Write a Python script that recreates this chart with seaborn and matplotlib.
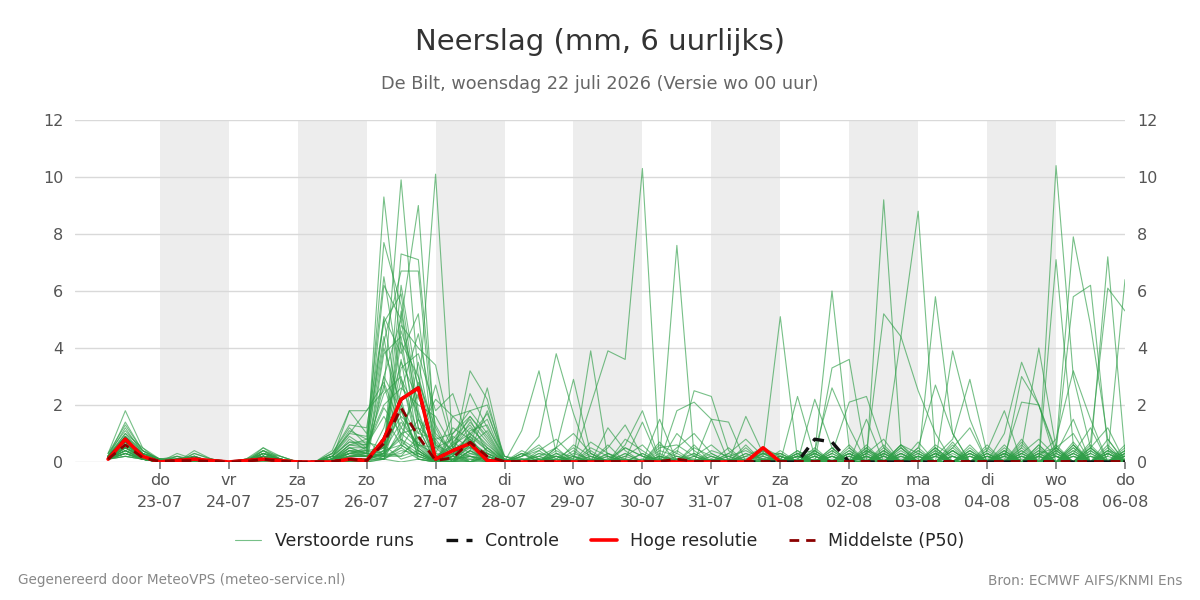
import numpy as np
import pandas as pd
import matplotlib
matplotlib.use("Agg")
import matplotlib.pyplot as plt
from matplotlib.lines import Line2D
import seaborn as sns

# tijdas: 6-uurlijkse stappen vanaf 22-07 06 uur (in dagen na 22-07 00 uur)
n_steps = 60
day_names = ['do', 'vr', 'za', 'zo', 'ma', 'di', 'wo', 'do', 'vr', 'za', 'zo', 'ma', 'di', 'wo', 'do']
day_dates = ['23-07', '24-07', '25-07', '26-07', '27-07', '28-07', '29-07', '30-07',
             '31-07', '01-08', '02-08', '03-08', '04-08', '05-08', '06-08']

# verstoorde runs, deel 1: 22-07 06u t/m 25-07 18u (15 stappen)
runs_early = [
    [0.2,1.0,0.3, 0.1,0.1,0.2,0, 0,0.1,0.3,0.1, 0,0,0.1,0.5],
    [0.3,1.8,0.5, 0.1,0,0.1,0, 0,0,0.2,0.1, 0,0,0.3,1.0],
    [0.2,1.4,0.4, 0,0.3,0.1,0, 0,0,0.5,0.2, 0,0,0,0.3],
    [0.1,0.8,0.2, 0,0,0.4,0.1, 0,0.1,0.2,0, 0,0,0.2,0],
    [0.2,1.2,0.3, 0.1,0.1,0,0, 0,0,0.4,0.1, 0,0,0.1,0.8],
    [0.1,0.6,0.2, 0,0.2,0.1,0, 0,0,0.1,0, 0,0,0,0.2],
    [0.3,1.1,0.4, 0.1,0,0.3,0.1, 0,0,0.3,0.2, 0,0,0.3,1.2],
    [0.2,0.9,0.3, 0,0.1,0,0, 0,0.1,0.5,0.1, 0,0,0.1,1.8],
    [0.1,0.7,0.2, 0.1,0,0.2,0, 0,0,0.2,0.1, 0,0,0,0.4],
    [0.2,1.0,0.5, 0,0,0.1,0, 0,0,0.3,0, 0,0,0.2,0.1],
    [0.2,0.8,0.3, 0.1,0.2,0,0.1, 0,0,0.4,0.2, 0,0,0.1,0.6],
    [0.1,0.5,0.1, 0,0,0.1,0, 0,0,0.1,0, 0,0,0,0.3],
    [0.3,1.3,0.4, 0.1,0.1,0.2,0, 0,0.1,0.2,0.1, 0,0,0.4,1.8],
    [0.2,0.9,0.2, 0,0,0,0, 0,0,0.3,0.1, 0,0,0,0.1],
    [0.1,0.6,0.2, 0,0.1,0.1,0, 0,0,0.2,0, 0,0,0.2,0.9],
    [0.2,0.7,0.3, 0.1,0,0.3,0.1, 0,0,0.1,0.1, 0,0,0.1,0.2],
    [0.1,0.9,0.2, 0,0.2,0,0, 0,0.1,0.4,0, 0,0,0,0.4],
    [0.2,0.5,0.2, 0,0,0.1,0, 0,0,0.2,0.1, 0,0,0.2,0.7],
    [0.1,0.4,0.1, 0,0.1,0,0, 0,0,0.1,0, 0,0,0,0.1],
    [0.2,0.6,0.3, 0.1,0,0.2,0, 0,0,0.3,0.1, 0,0,0.1,0.3],
    [0.1,0.3,0.1, 0,0,0,0, 0,0,0.2,0, 0,0,0,0],
    [0.2,0.8,0.2, 0,0.1,0.1,0, 0,0,0.3,0.1, 0,0,0.3,1.3],
    [0.1,0.5,0.2, 0,0,0,0, 0,0,0.1,0, 0,0,0.1,0.2],
    [0.2,0.7,0.1, 0.1,0,0.1,0.1, 0,0,0.2,0.1, 0,0,0,0.5],
    [0.1,0.4,0.2, 0,0.1,0,0, 0,0,0.1,0, 0,0,0,0.1],
    [0.2,0.6,0.2, 0,0,0.2,0, 0,0,0.4,0.1, 0,0,0.2,1.0],
    [0.1,0.3,0.1, 0,0,0,0, 0,0,0.1,0, 0,0,0,0.2],
    [0.2,0.6,0.3, 0.1,0.1,0.1,0, 0,0,0.2,0, 0,0,0.1,0.6],
    [0.1,0.2,0.1, 0,0,0,0, 0,0,0,0, 0,0,0,0],
    [0.1,0.5,0.2, 0,0,0.1,0, 0,0,0.2,0.1, 0,0,0.1,0.3],
    [0.1,0.4,0.1, 0,0.1,0,0, 0,0,0.1,0, 0,0,0,0.1],
    [0.2,0.6,0.2, 0,0,0.1,0, 0,0,0.2,0, 0,0,0.1,0.4],
    [0.2,0.9,0.4, 0.1,0,0.2,0, 0,0,0.3,0.1, 0,0,0.2,1.1],
    [0.1,0.3,0.1, 0,0,0,0, 0,0,0.1,0, 0,0,0,0.2],
    [0.2,0.7,0.2, 0,0.1,0.1,0, 0,0,0.2,0.1, 0,0,0.1,0.6],
    [0.1,0.4,0.1, 0,0,0,0, 0,0,0.1,0, 0,0,0,0.1],
    [0.1,0.5,0.2, 0,0,0.1,0, 0,0,0.2,0, 0,0,0.1,0.3],
    [0.1,0.2,0.1, 0,0,0,0, 0,0,0,0, 0,0,0,0],
    [0.2,0.8,0.3, 0,0.1,0,0, 0,0,0.3,0.1, 0,0,0.2,0.7],
    [0.1,0.5,0.1, 0,0,0.1,0, 0,0,0.1,0, 0,0,0,0.2],
    [0.1,0.3,0.1, 0,0,0,0, 0,0,0.1,0, 0,0,0,0.1],
    [0.2,0.6,0.2, 0,0,0.1,0, 0,0,0.2,0, 0,0,0.1,0.4],
    [0.1,0.4,0.1, 0,0,0,0, 0,0,0.1,0, 0,0,0,0],
    [0.1,0.6,0.2, 0,0,0.1,0, 0,0,0.2,0, 0,0,0.1,0.3],
    [0.1,0.3,0.1, 0,0,0,0, 0,0,0,0, 0,0,0,0.1],
    [0.2,0.7,0.2, 0,0.1,0,0, 0,0,0.2,0.1, 0,0,0.1,0.5],
    [0.1,0.4,0.1, 0,0,0,0, 0,0,0.1,0, 0,0,0,0],
    [0.1,0.5,0.2, 0,0,0.1,0, 0,0,0.1,0, 0,0,0,0.2],
    [0.1,0.2,0.1, 0,0,0,0, 0,0,0,0, 0,0,0,0],
    [0.1,0.3,0.1, 0,0,0,0, 0,0,0.1,0, 0,0,0,0.1],
]

# deel 2: 26-07 00u t/m 27-07 18u (8 stappen)
runs_event = [
    [0.3,9.3,4.0,1.2, 0,0.2,1.0,0.5],
    [1.8,2.5,9.9,3.0, 0.5,0.8,1.5,0.3],
    [0.5,3.0,5.0,9.0, 0.6,0.3,0.6,1.1],
    [0,1.2,3.5,2.2, 10.1,0.5,0.2,0.1],
    [0.4,7.7,5.5,1.5, 0.8,1.0,1.8,2.0],
    [0.2,0.4,7.3,7.1, 1.0,0.4,0.7,0.3],
    [0.6,4.2,6.7,6.7, 0.3,0.2,3.2,2.2],
    [1.0,6.5,2.8,1.0, 2.2,1.6,1.0,0.4],
    [0.3,5.1,3.8,5.2, 0,0.9,0.5,2.6],
    [0.1,0.3,6.2,2.5, 0.2,0.6,1.6,0.8],
    [0.8,4.9,5.9,1.8, 0,0.3,0.9,1.7],
    [0.2,0.5,4.8,4.0, 3.4,0.7,0.3,0.2],
    [1.8,2.8,1.2,0.6, 0.3,1.6,1.8,1.0],
    [0,3.8,4.4,0.5, 2.7,0.5,1.2,0.6],
    [0.5,6.2,5.0,1.2, 0,0,0.4,1.8],
    [0.3,0.2,3.3,3.8, 1.8,2.4,0.6,0.2],
    [0.2,4.0,2.0,0.8, 0,0.2,2.4,1.2],
    [0.7,0.5,4.2,3.0, 0.9,0.4,0.5,0.3],
    [0.1,0.3,5.3,1.5, 0,1.0,1.6,0.9],
    [0.4,0.1,2.5,4.5, 1.3,0.2,0.8,0],
    [0,3.0,1.8,0.5, 0,0.6,1.0,1.5],
    [1.2,5.0,1.5,0.6, 0.5,0,0.3,0.1],
    [0.3,0.2,4.6,2.7, 0.2,0.5,1.4,0.7],
    [0.5,2.4,3.0,0.4, 0,1.2,0.8,0.2],
    [0.1,0.4,0.6,3.5, 0.6,0,0,0.5],
    [0.9,4.4,0.8,0.4, 0,0.4,0.7,0],
    [0.2,0.5,3.6,0.3, 0,0,1.1,1.3],
    [0.6,2.0,2.6,2.0, 1.6,0.5,0,0.2],
    [0,0.1,1.2,2.4, 0,0.1,0.6,0],
    [0.4,0.3,2.2,0.1, 0,0.4,0.9,0.4],
    [0.1,0.6,1.6,1.0, 0.8,0,0.4,0.1],
    [0.3,2.7,0.7,0.3, 0,0.3,0.2,0],
    [0.8,0.2,2.9,1.7, 0,0,0.6,0.3],
    [0.2,0.3,0.9,2.8, 1.2,0,0,0.2],
    [0.5,1.9,1.0,0.5, 0,0.7,1.3,0.5],
    [0.1,0.1,2.0,0.2, 0,0,0.2,0.1],
    [0.3,0.2,0.5,1.5, 0.2,0.1,0.5,0],
    [0,0.4,1.4,0.6, 0,0,0.8,0],
    [0.6,1.6,0.6,0.2, 0,0.2,0,0.1],
    [0.2,0.2,1.0,1.2, 0.7,0,0.4,0],
    [0.1,0.1,0.4,0.3, 0,0.3,0,0.2],
    [0.4,0.5,1.8,0.4, 0,0.1,0.2,0],
    [0,0.2,0.3,0.7, 0,0.2,0.1,0.1],
    [0.2,0.1,0.6,0.2, 0,0,0.9,0],
    [0.1,0.3,0.8,0.1, 0,0.1,0,0.2],
    [0.3,0.2,0.2,0.9, 0,0,0.4,0.1],
    [0,0.6,0.1,0.3, 0,0.2,0,0],
    [0.2,0.1,0.5,0.1, 0,0.1,0.2,0.1],
    [0.1,0.3,0.2,0.4, 0,0,0.1,0],
    [0,0.1,0,0.1, 0,0,0,0],
]

# deel 3: 28-07 00u t/m 31-07 18u (16 stappen)
runs_mid = [
    [0,0,0.1,0.2, 0.1,2.0,3.9,3.6, 10.3,0,0.1,0, 0,0.1,0,0.2],
    [0.1,0,0,0.3, 0.2,0,0.1,0.5, 0.2,0.1,7.6,0.2, 0,0,0.3,0.1],
    [0,0.2,0.5,0.1, 0,0,0.3,0.1, 0,0.4,0.2,0, 0.1,0,0.1,0.2],
    [0,0.1,0,0, 0.6,0.2,0,0, 0.3,0,0,0.5, 0.2,0,0,0.3],
    [0.2,0,0.4,0.8, 0.2,0,0,0.1, 0,0.6,0.3,0, 0,0.2,0.4,0.1],
    [0,0.3,0.1,0, 0,0.5,0.2,0, 0.1,0,0,0.2, 0.6,0.1,0,0],
    [0,0,0.2,0.5, 1.0,0.3,0,0, 0,0.2,0.1,0, 0,0,0.2,0.5],
    [0.1,0,0,0.1, 0,0,1.2,0.4, 0,0,0.5,1.0, 0.3,0,0,0.1],
    [0,0.2,0.6,0, 0.3,0.1,0,0.2, 0,0.1,0,0, 0,0.3,0.8,0.2],
    [0,0,0,0.4, 0.1,0,0,0.8, 0.4,0,0.2,0.1, 0,0,0,0],
    [0.2,0.1,0,0, 0,0.7,0.3,0, 0,0.3,0,0, 0.4,0.2,0,0.3],
    [0,0,0.3,0.2, 0,0,0,0.2, 0.6,0,0.1,0.3, 0,0,0.5,0],
    [0,0.4,0.1,0, 0.2,0,0.5,1.3, 0.2,0,0,0, 0.1,0,0,0],
    [0.1,0,0,0.2, 0,0.3,0,0, 0,0.5,0.6,0.2, 0,0.1,0,0.4],
    [0,0.1,0.2,0, 0.4,0,0.1,0, 0.3,0,0,0, 0.2,0,0.3,0],
    [0,0,0,0.5, 0,0.2,0,0.3, 0,0,0.4,0, 0,0.5,0,0],
    [0.2,0,0.3,0, 0,0,0.6,0, 0,0.2,0,0.6, 0,0,0.1,0.3],
    [0,0.3,0,0.1, 0.5,0,0,0.1, 1.4,0,0,0, 0.3,0,0,0],
    [0,0,0.1,0, 0,0.4,0,0, 0,0,1.0,0.4, 0,0,0.6,0],
    [0.1,0,0,0.3, 0,0,0.2,0, 0,0.7,0,0, 0,0.3,0,0.1],
    [0,0.2,0.4,0, 0,0,0,0.5, 0.2,0,0,0.3, 0,0,0,0.4],
    [0,1.1,3.2,0.3, 0,0.1,0,0, 0,0,0.2,0, 0,0,0,0],
    [0,0.2,0.9,3.8, 1.7,0,0,0.1, 0,0,0,0, 0.2,0,0,0],
    [0,0,0,0.5, 2.9,0.3,0,0, 0,0.1,0,0, 0,0,0,0.1],
    [0.1,0,0,0, 0.1,3.9,0.1,0, 0,0,0,0.2, 0,0,0,0],
    [0,0,0.1,0, 0,0,0,0, 0.1,0,0.3,2.5, 2.3,0.4,0,0],
    [0,0.1,0,0, 0,0,0,0.6, 1.8,0.1,0,0, 0,0,0,0],
    [0,0,0,0.2, 0,0,0,0, 0,0,1.8,2.1, 1.5,0,0,0],
    [0,0,0.2,0, 0,0,0,0, 0,0,0,0, 0,0,0,0],
    [0,0,0,0, 0,0.1,0,0, 0,0,0,0, 0,0,0,0],
    [0,0,0,0, 0,0,0,0, 0,0,0,0, 0,0,0,0],
    [0,0,0,0, 0,0,0,0, 0,0,0,0, 0,0,1.6,0.3],
    [0,0,0,0, 0,0,0.2,0, 0,0,0,0, 0,0,0,0],
    [0,0,0,0.1, 0,0,0,0, 0,0,0,0, 0,0,0,0],
    [0,0,0,0, 0,0,0,0, 0,0,0,0, 0,0,0,0],
    [0,0,0,0, 0,0,0,0, 0,0,0,0, 0,0,0,0],
    [0,0,0,0, 0,0,0,0, 0,0,0,0, 1.5,1.4,0,0],
    [0,0,0,0, 0,0,0,0, 0,1.5,0,0, 0,0,0,0],
    [0,0,0.1,0, 0,0,0.3,0, 0,0,0,0, 0,0.2,0,0],
    [0,0.3,0,0, 0,0,0,0, 0,0,0.1,0, 0,0,0,0],
    [0,0,0,0, 0.2,0,0,0, 0,0,0,0, 0,0,0,0.3],
    [0,0,0,0, 0,0,0,0.3, 0,0,0,0, 0,0,0,0],
    [0,0,0,0.2, 0,0,0,0, 0,0,0,0.1, 0,0,0,0],
    [0,0,0,0, 0,0,0,0, 0,0.2,0,0, 0,0,0,0],
    [0,0.1,0,0, 0,0,0,0, 0,0,0,0, 0.1,0,0,0],
    [0,0,0,0, 0,0,0,0, 0,0,0,0, 0,0,0.2,0],
    [0,0,0,0, 0,0.2,0,0, 0,0,0,0, 0,0,0,0],
    [0,0,0,0, 0,0,0,0, 0,0,0,0, 0,0,0,0],
    [0,0,0,0, 0,0,0,0, 0,0,0,0, 0,0,0,0],
    [0,0,0,0, 0,0,0,0, 0,0,0,0, 0,0,0,0],
]

# deel 4: 01-08 00u t/m 06-08 00u (21 stappen)
runs_late = [
    [0,0.2,0,0.1, 0,0.4,0.2,0, 0,0.3,0,0, 0.2,0,0.1,0, 0.3,0,0.2,0, 0.1],
    [0.1,0,0.3,0, 0.2,0,0,0.6, 0.1,0,0.4,0, 0,0.3,0,0.2, 0,0.5,0,0, 0.3],
    [5.1,0.1,0,0.2, 0,0.5,0,0, 0.4,0,0,0.2, 0,0,0.6,0, 0.2,0,0,0.4, 0],
    [0,0.2,0.3,6.0, 0.5,0,0.1,0, 0,0.6,0.2,0, 0.3,0,0,0.5, 0,0.2,0,0, 0.6],
    [0.3,0,0,3.3, 3.6,0.1,0,0.3, 0,0,0.7,0, 0,0.4,0,0, 0.5,0,0.3,0, 0],
    [0,0.1,0,0, 0,0,9.2,0.5, 0,0.2,0,0, 0.4,0,0,0.3, 0,0,0.6,0, 0.2],
    [0.2,0,0.4,0, 0,0.3,5.2,4.4, 2.5,1.0,0,0, 0,0.3,0,0, 0.4,0,0,0.3, 0],
    [0,0,0.1,0, 0.3,0,0.2,4.4, 8.8,0.3,0,0.2, 0,0,0.5,0, 0,0.3,0,0, 0.1],
    [0,0.4,0,0, 0.2,0,0,0.5, 0,5.8,1.0,0, 0,0.2,0,0.4, 0,0,0.2,0, 0.4],
    [0.1,0,0,0.5, 0,0,0.3,0, 0.2,0,3.9,1.5, 0,0,0.3,0, 0.6,0,0,0.2, 0],
    [0,0,0.3,0, 0,0.6,0,0, 0,0.2,0.8,2.9, 0.3,0,0,0.2, 0,0.4,0,0, 0.3],
    [0.2,0,0,0, 0.4,0,0,0.2, 0,0,0,0.3, 0,1.0,3.5,2.0, 0.3,0,0.5,0, 0],
    [0,0.3,0,0.4, 0,0,0.2,0, 0,0.5,0,0, 0.2,0,0.5,4.0, 0.5,1.0,0,0.3, 0],
    [0,0,0.2,0, 0,0.2,0,0, 0.3,0,0,0.2, 0,0.3,0,0, 10.4,3.0,0.5,0, 0.2],
    [0.4,0,0,0.2, 0,0,0.5,0, 0,0.3,0,0, 0.5,0,0.2,0, 7.1,0.6,0,0, 0.4],
    [0,0.2,0,0, 0.3,0,0,0.4, 0,0,0.2,0, 0,0.4,0,0.3, 0.5,7.9,4.8,0.8, 0],
    [0.1,0,0.5,0, 0,0.3,0,0, 0.2,0,0,0.4, 0,0,0.2,0, 0.4,5.8,6.2,0.5, 0],
    [0,0,0,0.3, 0,0,0.4,0, 0,0.3,0,0, 0.2,0,0,0.6, 0,0,0.3,7.2, 0.3],
    [0.2,0,0,0, 0.5,0,0,0.2, 0,0,0.4,0, 0,0.5,0,0, 0.2,0,0.7,6.1, 5.3],
    [0,0.3,0,0, 0,0.2,0,0, 0.5,0,0,0.3, 0,0,0.4,0, 0,0.3,0,0.2, 6.4],
    [0,0,0.2,0, 0,0,0.3,0, 0,0.4,0,0, 0.3,0,0,0.2, 0.8,3.2,1.5,0, 0.2],
    [0.3,0,0,0.2, 0,0.4,0,0, 0,0,0.5,0, 0,0.2,0,0, 0,0.6,0,0.3, 0],
    [0,0.2,0,0, 0.3,0,0,0.6, 0,0,0,0.4, 0,0,0.3,0, 0.5,0,0,0.4, 0.2],
    [0,0,0.4,0, 0,0.2,0,0, 0.7,0,0.3,0, 0,0.6,0,0, 0,0.3,1.2,0, 0],
    [0.2,0,0,0.5, 0,0,0.6,0, 0,0.2,0,0.6, 0,0,0.3,0.8, 0.2,0,0,0.5, 0],
    [0,0.4,0,0, 0.6,0,0,0.3, 0,0,0.4,0, 0.2,0,0,0, 0.3,1.5,0,0, 0.4],
    [0.2,0,0.3,0, 0,0.3,0.8,0, 0,0.5,0,0, 0,0.3,0,0.6, 0,0,0.4,0, 0],
    [0,2.3,0.2,0, 0,0,0.3,0, 0.2,0,0,0.5, 0,0,0.8,0, 0,0.4,0,0, 0.3],
    [0,0,2.2,0.5, 0,0.2,0,0, 0,0.3,0,0, 0.6,0,0,0.2, 0,0,0.5,0, 0],
    [0,0.3,0.4,2.6, 1.2,0,0,0.5, 0,0,0.2,0, 0,0.4,0,0, 0.2,0,0,0.8, 0],
    [0,0,0,0.3, 2.1,2.3,0.5,0, 0,0.3,0,0, 0,0,0.7,0, 0,0.6,0,0, 0.2],
    [0.3,0,0,0, 0,0.4,0,0.6, 0.3,0,0,0.3, 0,0,0,0.4, 0.2,0,0,0.3, 0],
    [0,0,0.2,0, 0,0,0.4,0, 0.5,2.7,1.0,0, 0,0.3,0,0, 0,0.3,0,0, 0.5],
    [0,0.2,0,0, 0.3,0,0,0, 0,0,0.4,0, 0.3,0,3.0,2.0, 0,0,0.4,0, 0],
    [0.2,0,0,0.4, 0,0,0.2,0, 0,0.4,0,0.3, 0,0.2,2.1,2.0, 0.4,0,0,0.6, 0],
    [0,0,0.3,0, 0,0.5,0,0, 0.2,0,0,0, 0.4,1.8,0,0, 0,0.7,0,0, 0.3],
    [0,0.3,0,0, 0.4,0,0,0.3, 0,0,0.6,0, 0,0,0,0.3, 0,0,0.5,1.2, 0],
    [0.2,0,0,0.3, 0,0,0.4,0, 0,0.5,0,0, 0.2,0,0.4,0, 0.5,0,0,0, 0.2],
    [0,0,0.4,0, 0,1.5,0,0, 0.3,0,0,0.4, 0,0,0,0.3, 0,0.5,0,0, 0],
    [0,0.2,0,0, 0.3,0,0,0.2, 0,0,0.5,1.2, 0,0,0.2,0, 0.3,0,0,0.4, 0],
    [0.1,0,0,0.2, 0,0,0.3,0, 0,0.2,0,0, 0,0.3,0,0, 0,0,0.3,0, 0.1],
    [0,0,0.2,0, 0,0.3,0,0, 0.4,0,0,0, 0.2,0,0,0.2, 0,0.2,0,0, 0],
    [0,0.2,0,0, 0,0,0,0.3, 0,0,0.2,0, 0,0,0.3,0, 0,0,0,0.3, 0],
    [0.2,0,0,0, 0.2,0,0,0, 0,0.3,0,0, 0,0.2,0,0, 0.4,0,0,0, 0.1],
    [0,0,0,0.2, 0,0,0.2,0, 0,0,0,0.2, 0,0,0,0, 0,0.2,0,0, 0],
    [0,0.1,0,0, 0,0.2,0,0, 0,0,0.2,0, 0,0,0.2,0, 0,0,0.2,0, 0],
    [0,0,0,0, 0.1,0,0,0, 0.2,0,0,0, 0,0.1,0,0, 0,0,0,0.1, 0],
    [0,0,0.1,0, 0,0,0,0.1, 0,0,0,0, 0.1,0,0,0, 0.2,0,0,0, 0],
    [0,0,0,0, 0,0,0,0, 0,0,0,0, 0,0,0,0, 0,0,0,0, 0],
    [0,0,0,0, 0,0,0,0, 0,0,0,0, 0,0,0,0, 0,0,0,0, 0],
]

# controle run (60 stappen)
controle = [0.1,0.8,0.2, 0,0.05,0.1,0.05, 0,0.05,0.1,0.05, 0,0,0,0.1,
            0.05,0.8,2.2,2.6, 0.1,0.4,0.65,0.05,
            0,0,0,0, 0,0,0,0, 0,0,0,0, 0,0,0,0,
            0,0,0.8,0.7, 0,0,0,0, 0,0,0,0, 0,0,0,0, 0,0,0,0, 0]

# hoge resolutie (tot 01-08 00u, 40 stappen)
hoge_res = [0.1,0.8,0.2, 0,0.05,0.1,0.05, 0,0.05,0.1,0.05, 0,0,0,0.1,
            0.05,0.8,2.2,2.6, 0.1,0.4,0.65,0.05,
            0,0,0,0, 0,0,0,0, 0,0,0,0, 0,0,0,0.5, 0]

# mediaan (P50)
p50 = [0.1,0.6,0.15, 0.02,0.05,0.05,0.02, 0,0.02,0.1,0.03, 0,0,0.02,0.1,
       0.05,0.65,1.9,0.9, 0.05,0.15,0.7,0.2,
       0.02,0.02,0.02,0.02, 0.02,0.02,0.02,0.02, 0.02,0.02,0.1,0.02, 0.02,0.02,0.02,0.02,
       0.02,0.02,0.02,0.02, 0.02,0.02,0.02,0.02, 0.02,0.02,0.02,0.02, 0.02,0.02,0.02,0.02,
       0.02,0.02,0.02,0.02, 0.02]

t = 0.25 + 0.25 * np.arange(n_steps)

rows = []
for k in range(len(runs_early)):
    vals = runs_early[k] + runs_event[k] + runs_mid[k] + runs_late[k]
    assert len(vals) == n_steps, (k, len(vals))
    for x, v in zip(t, vals):
        rows.append((k, x, v))
df_runs = pd.DataFrame(rows, columns=['run', 't', 'mm'])
df_ctrl = pd.DataFrame({'t': t, 'mm': controle})
df_hres = pd.DataFrame({'t': t[:len(hoge_res)], 'mm': hoge_res})
df_p50 = pd.DataFrame({'t': t, 'mm': p50})

sns.set_style('white')
plt.rcParams['font.family'] = ['DejaVu Sans']

fig = plt.figure(figsize=(12, 6), dpi=100)
ax = fig.add_axes([0.0625, 0.23, 0.875, 0.57])

# grijze banden om de dag
for d in range(1, 14, 2):
    ax.axvspan(d, d + 1, color='#ededed', lw=0, zorder=0)

sns.lineplot(data=df_runs, x='t', y='mm', units='run', estimator=None,
             color='#2f9e48', lw=0.8, alpha=0.65, ax=ax, zorder=2)
sns.lineplot(data=df_ctrl, x='t', y='mm', color='#111111', lw=2.4,
             dashes=(3.5, 2.5), ax=ax, zorder=3)
sns.lineplot(data=df_hres, x='t', y='mm', color='#ff0000', lw=2.6, ax=ax, zorder=4)
sns.lineplot(data=df_p50, x='t', y='mm', color='#8b0000', lw=2.0,
             dashes=(3.5, 2.5), ax=ax, zorder=5)

ax.set_xlim(-0.23, 15)
ax.set_ylim(0, 12)
ax.set_yticks(range(0, 13, 2))
ax.set_xticks(range(1, 16))
ax.set_xticklabels([f'{a}\n{b}' for a, b in zip(day_names, day_dates)], linespacing=1.55)
ax.grid(axis='y', color='#d9d9d9', lw=1)
ax.grid(axis='x', visible=False)
ax.set_axisbelow(True)
for s in ax.spines.values():
    s.set_visible(False)
ax.tick_params(axis='x', bottom=True, length=5, width=1.2, color='#777777',
               labelsize=11.5, labelcolor='#555555', pad=3)
ax.tick_params(axis='y', left=False, right=False, labelleft=True, labelright=True,
               labelsize=11.5, labelcolor='#555555', pad=5)
ax.set_xlabel('')
ax.set_ylabel('')

fig.text(0.5, 0.93, 'Neerslag (mm, 6 uurlijks)', ha='center', va='center',
         fontsize=21, color='#333333')
fig.text(0.5, 0.86, 'De Bilt, woensdag 22 juli 2026 (Versie wo 00 uur)', ha='center',
         va='center', fontsize=12.7, color='#666666')

handles = [
    Line2D([], [], color='#2f9e48', lw=0.8, alpha=0.65),
    Line2D([], [], color='#111111', lw=2.4, dashes=(3.5, 2.5)),
    Line2D([], [], color='#ff0000', lw=2.6),
    Line2D([], [], color='#8b0000', lw=2.0, dashes=(3.5, 2.5)),
]
labels = ['Verstoorde runs', 'Controle', 'Hoge resolutie', 'Middelste (P50)']
fig.legend(handles, labels, loc='center', bbox_to_anchor=(0.5, 0.098), ncol=4,
           frameon=False, fontsize=12.5, handlelength=1.5, columnspacing=1.85,
           handletextpad=0.75)

fig.text(0.015, 0.033, 'Gegenereerd door MeteoVPS (meteo-service.nl)', ha='left',
         va='center', fontsize=9.8, color='#888888')
fig.text(0.985, 0.033, 'Bron: ECMWF AIFS/KNMI Ens', ha='right', va='center',
         fontsize=9.8, color='#888888')

fig.savefig('out.png', dpi=100)
